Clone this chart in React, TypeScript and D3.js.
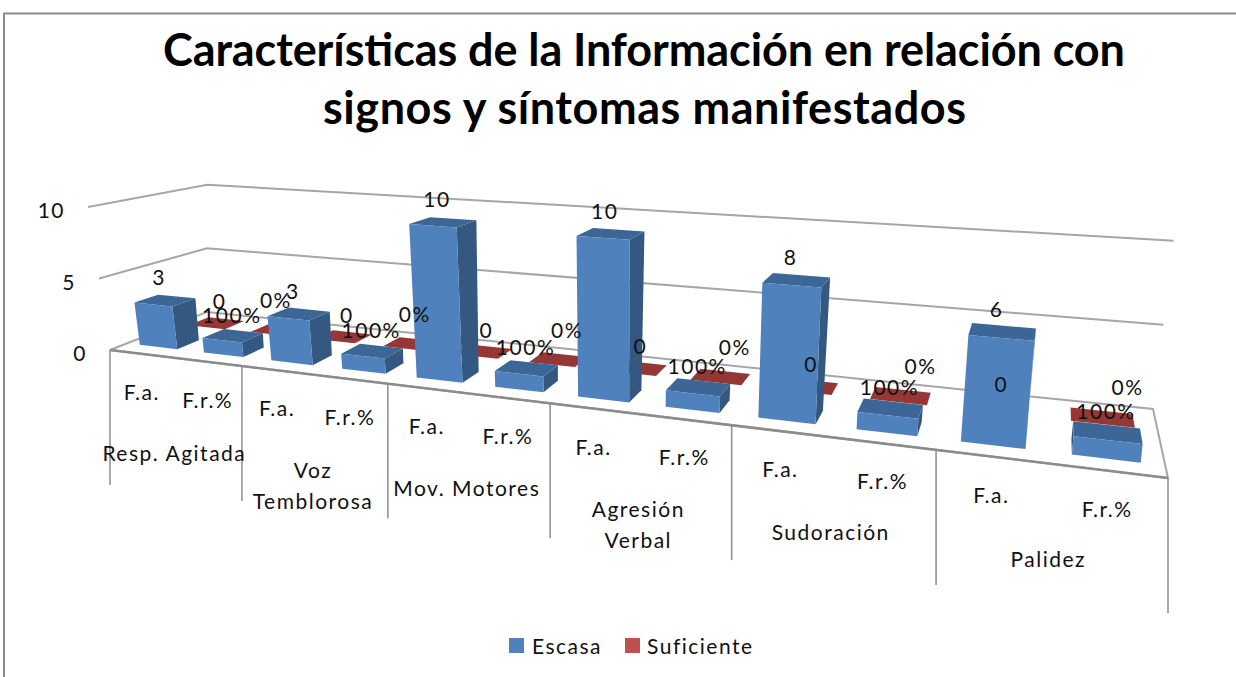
import React from "react";
import * as d3 from "d3";

const titleLines = ["Características de la Información en relación con", "signos y síntomas  manifestados"];
const groups = [["Resp. Agitada"], ["Voz", "Temblorosa"], ["Mov. Motores"], ["Agresión", "Verbal"], ["Sudoración"], ["Palidez"]];
const subCategories = ["F.a.", "F.r.%", "F.a.", "F.r.%", "F.a.", "F.r.%", "F.a.", "F.r.%", "F.a.", "F.r.%", "F.a.", "F.r.%"];
const escasa = [3, 1, 3, 1, 10, 1, 10, 1, 8, 1, 6, 1];
const suficiente = [0, 0, 0, 0, 0, 0, 0, 0, 0, 0, 0, 0];
const escasaLabels = ["3", "100%", "3", "100%", "10", "100%", "10", "100%", "8", "100%", "6", "100%"];
const suficienteLabels = ["0", "0%", "0", "0%", "0", "0%", "0", "0%", "0", "0%", "0", "0%"];
const valueTicks = [0, 5, 10];
const legend = ["Escasa", "Suficiente"];

type P = [number, number];
function homography(p0: P, p1: P, p2: P, p3: P) {
  const dx1 = p1[0] - p2[0], dx2 = p3[0] - p2[0], sx = p0[0] - p1[0] + p2[0] - p3[0];
  const dy1 = p1[1] - p2[1], dy2 = p3[1] - p2[1], sy = p0[1] - p1[1] + p2[1] - p3[1];
  const det = dx1 * dy2 - dx2 * dy1;
  const g = (sx * dy2 - dx2 * sy) / det, h = (dx1 * sy - sx * dy1) / det;
  const a = p1[0] - p0[0] + g * p1[0], b = p3[0] - p0[0] + h * p3[0], c = p0[0];
  const d = p1[1] - p0[1] + g * p1[1], e = p3[1] - p0[1] + h * p3[1], f = p0[1];
  return (u: number, w: number): P => {
    const q = g * u + h * w + 1;
    return [(a * u + b * w + c) / q, (d * u + e * w + f) / q];
  };
}

const floor = homography([110, 350], [1168, 478], [1153, 409], [207, 311.9]);
// screen offset of the value-10 plane from the floor, at the four floor corners
const riseFront = { left: [-22, -143], right: [20, -190] };
const riseBack = { left: [-2, -123], right: [21, -169] };
const vScale = d3.scaleLinear().domain([0, 10]).range([0, 1]);
const sScale = d3.scaleLinear().domain([110, 1168]).range([0, 1]);
function project(u: number, w: number, v: number): P {
  const a = floor(u, w);
  const s = sScale(a[0]), t = vScale(v);
  const lerp = (l: number, r: number) => l + (r - l) * s;
  const off = [0, 1].map((k) => {
    const f = lerp(riseFront.left[k], riseFront.right[k]);
    const b = lerp(riseBack.left[k], riseBack.right[k]);
    return f + (b - f) * w;
  });
  return [a[0] + off[0] * t, a[1] + off[1] * t];
}

const ids = subCategories.map((_, i) => i);
const band = d3.scaleBand<number>().domain(ids).range([0, 1]).paddingInner(0.41).paddingOuter(0.205);
const groupScale = d3.scaleLinear().domain([0, groups.length]).range([0, 1]);
const catCenter = (i: number) => (i + 0.5) / subCategories.length;
const rows = { escasa: [0.16, 0.38], suficiente: [0.66, 0.88] };

const line = d3.line<P>();
const closed = (pts: P[]) => line(pts) + "Z";
const area = (pts: P[]) => d3.polygonArea(pts);

const COLORS = {
  front: "#4F81BD", side: "#34587F", top: "#3C6695",
  redFront: "#C0504D", redTop: "#953735", grid: "#A6A6A6", edge: "#8C8C8C", axis: "#8C8C8C",
};

function Bar({ i, value, row, red }: { i: number; value: number; row: number[]; red?: boolean }) {
  const u0 = band(i)!, u1 = u0 + band.bandwidth();
  const [w0, w1] = row;
  const fbl = project(u0, w0, 0), fbr = project(u1, w0, 0), bbr = project(u1, w1, 0), bbl = project(u0, w1, 0);
  const ftl = project(u0, w0, value), ftr = project(u1, w0, value), btr = project(u1, w1, value), btl = project(u0, w1, value);
  const topFace = [ftl, ftr, btr, btl];
  if (value === 0) return <path d={closed(topFace)} fill={COLORS.redTop} />;
  const right = [fbr, bbr, btr, ftr];
  const left = [fbl, ftl, btl, bbl];
  const front = [fbl, fbr, ftr, ftl];
  return (
    <g>
      {area(left) > 0 && <path d={closed(left)} fill={red ? COLORS.redTop : COLORS.side} />}
      {area(right) > 0 && <path d={closed(right)} fill={red ? COLORS.redTop : COLORS.side} />}
      <path d={closed(topFace)} fill={red ? COLORS.redTop : COLORS.top} />
      <path d={closed(front)} fill={red ? COLORS.redFront : COLORS.front} />
    </g>
  );
}

const FONT = "Lato, 'Open Sans', sans-serif";
const labelStyle = { fontFamily: FONT, fontSize: 21, letterSpacing: 1.5, fill: "#111" } as const;

function suficienteLabelPos(i: number): P {
  const u = catCenter(i);
  const p = project(u, 0.77, 0);
  const isFa = i % 2 === 0;
  return isFa ? [p[0] + 3, p[1] - 21] : [p[0] - 7 + 34 * u, p[1] - 29];
}

export default function App() {
  return (
    <svg width={1236} height={677} style={{ position: "absolute", left: 0, top: 0, background: "#fff" }}>
      <path d="M4,677V13.5H1236" fill="none" stroke="#8C8C8C" strokeWidth={2} />

      {titleLines.map((t, i) => (
        <text key={i} x={i === 0 ? 163 : 323} y={i === 0 ? 66 : 124} textLength={i === 0 ? 962 : 643} lengthAdjust="spacing"
          style={{ fontFamily: FONT, fontSize: 45, fontWeight: 700, fill: "#000" }}>{t}</text>
      ))}

      {valueTicks.filter((v) => v > 0).map((v) => (
        <path key={v} d={line([project(0, 0, v), project(0, 1, v), project(1, 1, v)])!} fill="none" stroke={COLORS.grid} strokeWidth={2} />
      ))}
      <path d={closed([project(0, 0, 0), project(0, 1, 0), project(1, 1, 0), project(1, 0, 0)])} fill="none" stroke={COLORS.grid} strokeWidth={2} />
      <path d={line([project(0, 0, 0), project(1, 0, 0)])!} fill="none" stroke={COLORS.edge} strokeWidth={2.5} />

      {valueTicks.map((v) => {
        const p = project(0, 0, v);
        return <text key={v} x={p[0] - 23} y={p[1] + 11} textAnchor="end" style={labelStyle}>{v}</text>;
      })}

      {d3.range(groups.length + 1).map((g) => {
        const p = project(groupScale(g), 0, 0);
        return <path key={g} d={line([p, [p[0], p[1] + 135]])!} stroke={COLORS.axis} strokeWidth={1.5} fill="none" />;
      })}

      {ids.map((i) => <Bar key={i} i={i} value={suficiente[i]} row={rows.suficiente} red />)}
      {ids.map((i) => <Bar key={i} i={i} value={escasa[i]} row={rows.escasa} />)}

      {subCategories.map((c, i) => {
        const p = project(catCenter(i), 0, 0);
        return <text key={i} x={p[0]} y={p[1] + 46} textAnchor="middle" style={labelStyle}>{c}</text>;
      })}
      {groups.map((lines, g) => {
        const p = project(groupScale(g + 0.5), 0, 0);
        return lines.map((l, k) => (
          <text key={l} x={p[0]} y={p[1] + 103 + k * 31} textAnchor="middle" style={labelStyle}>{l}</text>
        ));
      })}

      {ids.map((i) => {
        const uc = band(i)! + band.bandwidth() / 2;
        const p = project(uc, 0.27, escasa[i]);
        const isFa = i % 2 === 0;
        return <text key={i} x={p[0] + (isFa ? -6 : -1)} y={p[1] + (isFa ? -15 : -13)} textAnchor="middle" style={labelStyle}>{escasaLabels[i]}</text>;
      })}
      {ids.map((i) => {
        const p = suficienteLabelPos(i);
        return <text key={i} x={p[0]} y={p[1] + 7} textAnchor="middle" style={labelStyle}>{suficienteLabels[i]}</text>;
      })}

      {legend.map((l, i) => (
        <g key={l}>
          <rect x={i === 0 ? 509 : 625} y={638} width={15} height={15} fill={i === 0 ? COLORS.front : COLORS.redFront} />
          <text x={i === 0 ? 532 : 647} y={654} style={labelStyle}>{l}</text>
        </g>
      ))}
    </svg>
  );
}
